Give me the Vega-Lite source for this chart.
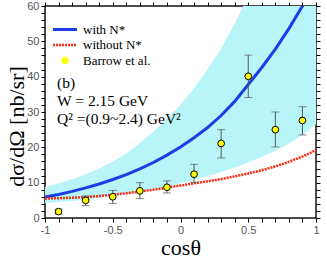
{
  "$schema": "https://vega.github.io/schema/vega-lite/v6.json",
  "width": 271,
  "height": 212,
  "autosize": {"type": "none"},
  "padding": {"left": 45, "top": 6, "right": 11, "bottom": 44},
  "background": "white",
  "config": {
    "view": {"stroke": "#111", "strokeWidth": 1.5},
    "axis": {"tickColor": "black", "tickWidth": 1, "grid": false, "domain": false}
  },
  "datasets": {
    "curves": [
      {"c": -1.0, "with_nstar": 5.9, "without_nstar": 5.5, "band_lo": 4.2, "band_hi": 8.7},
      {"c": -0.9, "with_nstar": 6.67, "without_nstar": 5.6, "band_lo": 4.5, "band_hi": 9.8},
      {"c": -0.8, "with_nstar": 7.54, "without_nstar": 5.75, "band_lo": 4.8, "band_hi": 11.0},
      {"c": -0.7, "with_nstar": 8.52, "without_nstar": 5.95, "band_lo": 5.2, "band_hi": 12.4},
      {"c": -0.6, "with_nstar": 9.63, "without_nstar": 6.2, "band_lo": 5.7, "band_hi": 14.0},
      {"c": -0.5, "with_nstar": 10.9, "without_nstar": 6.6, "band_lo": 6.2, "band_hi": 15.9},
      {"c": -0.4, "with_nstar": 12.3, "without_nstar": 7.0, "band_lo": 6.8, "band_hi": 18.3},
      {"c": -0.3, "with_nstar": 13.9, "without_nstar": 7.5, "band_lo": 7.4, "band_hi": 21.2},
      {"c": -0.2, "with_nstar": 15.7, "without_nstar": 8.0, "band_lo": 8.1, "band_hi": 24.4},
      {"c": -0.1, "with_nstar": 17.8, "without_nstar": 8.6, "band_lo": 8.9, "band_hi": 28.0},
      {"c": 0.0, "with_nstar": 20.1, "without_nstar": 9.2, "band_lo": 9.8, "band_hi": 32.0},
      {"c": 0.1, "with_nstar": 22.7, "without_nstar": 9.8, "band_lo": 10.8, "band_hi": 36.7},
      {"c": 0.2, "with_nstar": 25.6, "without_nstar": 10.4, "band_lo": 11.9, "band_hi": 42.0},
      {"c": 0.3, "with_nstar": 29.0, "without_nstar": 11.0, "band_lo": 13.0, "band_hi": 48.0},
      {"c": 0.4, "with_nstar": 33.0, "without_nstar": 11.8, "band_lo": 14.3, "band_hi": 55.0},
      {"c": 0.5, "with_nstar": 37.8, "without_nstar": 12.6, "band_lo": 15.7, "band_hi": 63.0},
      {"c": 0.6, "with_nstar": 42.6, "without_nstar": 13.5, "band_lo": 17.3, "band_hi": 72.0},
      {"c": 0.7, "with_nstar": 47.8, "without_nstar": 14.6, "band_lo": 19.0, "band_hi": 82.0},
      {"c": 0.8, "with_nstar": 53.6, "without_nstar": 15.9, "band_lo": 21.0, "band_hi": 93.0},
      {"c": 0.9, "with_nstar": 60.0, "without_nstar": 17.4, "band_lo": 23.5, "band_hi": 105.0},
      {"c": 1.0, "with_nstar": 67.0, "without_nstar": 19.2, "band_lo": 26.5, "band_hi": 118.0}
    ],
    "barrow": [
      {"c": -0.9, "v": 1.8, "lo": 1.1, "hi": 2.5},
      {"c": -0.7, "v": 5.0, "lo": 3.5, "hi": 6.2},
      {"c": -0.5, "v": 6.0, "lo": 4.1, "hi": 7.8},
      {"c": -0.3, "v": 7.7, "lo": 5.5, "hi": 10.0},
      {"c": -0.1, "v": 8.7, "lo": 7.1, "hi": 10.5},
      {"c": 0.1, "v": 12.4, "lo": 10.1, "hi": 15.2},
      {"c": 0.3, "v": 21.1, "lo": 17.0, "hi": 25.0},
      {"c": 0.5, "v": 40.1, "lo": 34.1, "hi": 46.1},
      {"c": 0.7, "v": 25.0, "lo": 20.1, "hi": 30.0},
      {"c": 0.9, "v": 27.6, "lo": 23.5, "hi": 31.5}
    ]
  },
  "resolve": {"axis": {"x": "independent", "y": "independent"}},
  "layer": [
    {
      "data": {"name": "curves"},
      "mark": {"type": "area", "color": "#b8f5f8", "clip": true},
      "encoding": {
        "x": {
          "field": "c", "type": "quantitative",
          "scale": {"domain": [-1, 1], "nice": false, "zero": false},
          "axis": {
            "orient": "bottom",
            "values": [-1, -0.9, -0.8, -0.7, -0.6, -0.5, -0.4, -0.3, -0.2, -0.1, 0, 0.1, 0.2, 0.3, 0.4, 0.5, 0.6, 0.7, 0.8, 0.9, 1],
            "labelExpr": "abs(datum.value*2-round(datum.value*2)) < 0.001 ? datum.value + '' : ''",
            "labelOverlap": false, "labelFlush": false, "labelBound": false,
            "tickSize": 4, "labelPadding": 2,
            "labelFont": "Liberation Sans", "labelFontSize": 11, "labelColor": "#555",
            "title": "cosθ", "titleFont": "Liberation Serif", "titleFontSize": 22, "titleFontWeight": "normal",
            "titleColor": "black", "titleBaseline": "alphabetic", "titleY": 36.5,
            "encode": {"ticks": {"update": {"y2": {"signal": "abs(datum.value*2-round(datum.value*2)) < 0.001 ? -6 : -3"}}}}
          }
        },
        "y": {
          "field": "band_lo", "type": "quantitative",
          "scale": {"domain": [0, 60], "nice": false},
          "axis": {
            "orient": "left",
            "values": [0, 2, 4, 6, 8, 10, 12, 14, 16, 18, 20, 22, 24, 26, 28, 30, 32, 34, 36, 38, 40, 42, 44, 46, 48, 50, 52, 54, 56, 58, 60],
            "labelExpr": "datum.value % 10 === 0 ? datum.value + '' : ''",
            "labelOverlap": false, "labelFlush": false, "labelBound": false,
            "tickSize": 4, "labelPadding": 2,
            "labelFont": "Liberation Sans", "labelFontSize": 11, "labelColor": "#555",
            "title": "dσ/dΩ [nb/sr]", "titleFont": "Liberation Serif", "titleFontSize": 22, "titleFontWeight": "normal",
            "titleColor": "black", "titleBaseline": "alphabetic", "titleX": -22, "titleY": 120,
            "encode": {"ticks": {"update": {"x2": {"signal": "datum.value % 10 === 0 ? 6 : 3"}}}}
          }
        },
        "y2": {"field": "band_hi"}
      }
    },
    {
      "data": {"name": "curves"},
      "mark": {"type": "line", "strokeWidth": 3, "clip": true},
      "encoding": {
        "x": {
          "field": "c", "type": "quantitative",
          "axis": {
            "orient": "top",
            "values": [-1, -0.9, -0.8, -0.7, -0.6, -0.5, -0.4, -0.3, -0.2, -0.1, 0, 0.1, 0.2, 0.3, 0.4, 0.5, 0.6, 0.7, 0.8, 0.9, 1],
            "labels": false, "title": null, "tickSize": 4,
            "encode": {"ticks": {"update": {"y2": {"signal": "abs(datum.value*2-round(datum.value*2)) < 0.001 ? 6 : 3"}}}}
          }
        },
        "y": {
          "field": "with_nstar", "type": "quantitative",
          "axis": {
            "orient": "right",
            "values": [0, 2, 4, 6, 8, 10, 12, 14, 16, 18, 20, 22, 24, 26, 28, 30, 32, 34, 36, 38, 40, 42, 44, 46, 48, 50, 52, 54, 56, 58, 60],
            "labels": false, "title": null, "tickSize": 4,
            "encode": {"ticks": {"update": {"x2": {"signal": "datum.value % 10 === 0 ? -6 : -3"}}}}
          }
        },
        "color": {
          "datum": "with N*",
          "scale": {"domain": ["with N*", "without N*", "Barrow et al."], "range": ["#1c3ee6", "#ff2a12", "#ffff00"]},
          "legend": {
            "orient": "none", "legendX": 13.5, "legendY": 17, "title": null, "padding": 0,
            "symbolType": "stroke", "symbolSize": 144, "labelOffset": 11.5, "rowPadding": 1.5,
            "labelFont": "Liberation Serif", "labelFontSize": 13, "labelColor": "black",
            "encode": {
              "symbols": {
                "update": {
                  "shape": {"signal": "datum.value === 'Barrow et al.' ? 'circle' : 'stroke'"},
                  "size": {"signal": "datum.value === 'Barrow et al.' ? 45 : 576"},
                  "fill": {"signal": "datum.value === 'Barrow et al.' ? '#ffff00' : 'transparent'"},
                  "stroke": {"signal": "datum.value === 'Barrow et al.' ? '#000000' : (datum.value === 'with N*' ? '#1c3ee6' : '#ff2a12')"},
                  "strokeWidth": {"signal": "datum.value === 'Barrow et al.' ? 1 : (datum.value === 'with N*' ? 3 : 2.5)"},
                  "strokeDash": {"signal": "datum.value === 'without N*' ? [2, 1] : [1, 0]"}
                }
              }
            }
          }
        }
      }
    },
    {
      "data": {"name": "curves"},
      "mark": {"type": "line", "strokeWidth": 2.5, "strokeDash": [2, 1], "clip": true},
      "encoding": {
        "x": {"field": "c", "type": "quantitative", "axis": null},
        "y": {"field": "without_nstar", "type": "quantitative", "axis": null},
        "color": {"datum": "without N*"}
      }
    },
    {
      "data": {"name": "barrow"},
      "mark": {"type": "rule", "color": "#555", "strokeWidth": 1},
      "encoding": {
        "x": {"field": "c", "type": "quantitative", "axis": null},
        "y": {"field": "lo", "type": "quantitative", "axis": null},
        "y2": {"field": "hi"}
      }
    },
    {
      "data": {"name": "barrow"},
      "mark": {"type": "tick", "orient": "horizontal", "size": 8, "thickness": 1, "color": "#555"},
      "encoding": {
        "x": {"field": "c", "type": "quantitative", "axis": null},
        "y": {"field": "lo", "type": "quantitative", "axis": null}
      }
    },
    {
      "data": {"name": "barrow"},
      "mark": {"type": "tick", "orient": "horizontal", "size": 8, "thickness": 1, "color": "#555"},
      "encoding": {
        "x": {"field": "c", "type": "quantitative", "axis": null},
        "y": {"field": "hi", "type": "quantitative", "axis": null}
      }
    },
    {
      "data": {"name": "barrow"},
      "mark": {"type": "point", "shape": "circle", "filled": true, "fill": "#ffff00", "stroke": "#000", "strokeWidth": 1, "size": 45, "opacity": 1},
      "encoding": {
        "x": {"field": "c", "type": "quantitative", "axis": null},
        "y": {"field": "v", "type": "quantitative", "axis": null}
      }
    },
    {
      "data": {"values": [{"note": ["(b)", "W = 2.15 GeV", "Q² =(0.9~2.4) GeV²"]}]},
      "mark": {"type": "text", "align": "left", "baseline": "alphabetic", "font": "Liberation Serif", "fontSize": 15.5, "lineHeight": 18, "color": "black"},
      "encoding": {
        "x": {"datum": -0.911, "type": "quantitative", "axis": null},
        "y": {"datum": 36.8, "type": "quantitative", "axis": null},
        "text": {"field": "note"}
      }
    }
  ]
}
